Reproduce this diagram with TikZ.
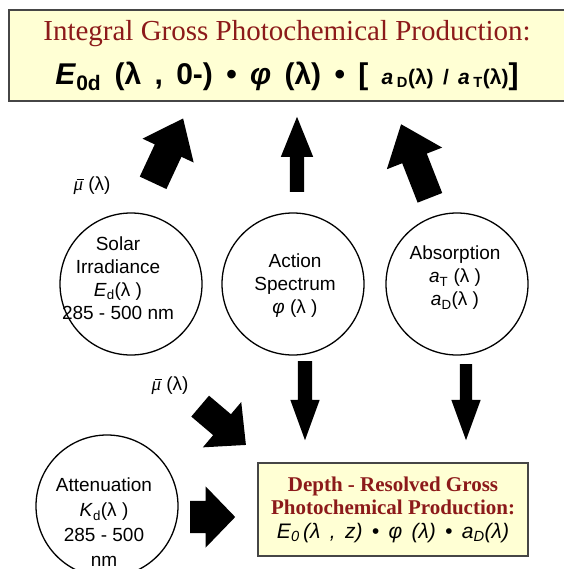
\documentclass[tikz,border=0pt]{standalone}
\usepackage{fontspec}
\setmainfont{Liberation Serif}
\setsansfont{Liberation Sans}
\usetikzlibrary{shapes.arrows, positioning}
\definecolor{boxfill}{RGB}{255,255,212}
\definecolor{titlered}{RGB}{140,26,26}
\definecolor{boxline}{RGB}{70,70,70}
\newcommand{\mubarsym}{{\rmfamily\itshape\makebox[0pt][l]{\hspace{0.17em}\raisebox{0.58em}{\rule{0.4em}{0.06em}}}μ}}

\begin{document}
\begin{tikzpicture}[
  x=1pt, y=-1pt,
  result/.style={draw=boxline, line width=2.5pt, fill=boxfill, align=center, inner sep=0pt},
  factor/.style={draw, circle, line width=1.3pt, minimum size=142pt, inner sep=0pt},
  factortext/.style={align=center, font=\sffamily\fontsize{19}{23}\selectfont},
  fat/.style={single arrow, fill=black, inner xsep=0pt, anchor=tail, single arrow head indent=0pt},
  mubar/.style={font=\sffamily\fontsize{19}{22}\selectfont}
]
\useasboundingbox (0,0) rectangle (563,569);

% integral result
\node[result, minimum width=556pt, minimum height=91pt, font=\fontsize{29}{44}\selectfont] (integral) at (287,55.5)
  {{\color{titlered}Integral Gross Photochemical Production:}\\
   {\sffamily\bfseries\fontsize{30}{44}\selectfont \textit{E}\textsubscript{0d}\, (λ\, ,\, 0-)\, •\, \textit{φ}\, (λ)\, •\, [\, {\fontsize{21}{21}\selectfont\textit{a}\,\textsubscript{D}(λ)\, /\, \textit{a}\,\textsubscript{T}(λ)}]}};

% factors
\node[factor] (solar) at (131,284) {};
\node[factortext] (solartext) at (118,278) {Solar\\Irradiance\\\textit{E}\textsubscript{d}(λ )\\285 - 500 nm};
\node[factor] (action) at (293,284) {};
\node[factortext] (actiontext) at (295,286) {Action\\Spectrum\\\textit{φ} (λ )};
\node[factor] (absorb) at (457,284) {};
\node[factortext] (absorbtext) at (455,278) {Absorption\\\textit{a}\textsubscript{T} (λ )\\\textit{a}\textsubscript{D}(λ )};
\node[factor] (atten) at (107,506) {};
\node[factortext, font=\sffamily\fontsize{19}{25}\selectfont] (attentext) at (104,522) {Attenuation\\\textit{K}\textsubscript{d}(λ )\\285 - 500\\nm};

% depth resolved result
\node[result, minimum width=270pt, minimum height=93pt, font=\fontsize{21}{23.5}\selectfont] (depth) at (393,509.5)
  {{\color{titlered}\bfseries Depth - Resolved Gross}\\
   {\color{titlered}\bfseries Photochemical Production:}\\
   {\sffamily\itshape\fontsize{21}{23.5}\selectfont E\textsubscript{0}\,(λ\, ,\, z)\, •\, φ\, (λ)\, •\, a\textsubscript{D}(λ)}};

% mean cosine labels
\node[mubar] (mu1) at (92,186) {\mubarsym\ (λ)};
\node[mubar] (mu2) at (170,386) {\mubarsym\ (λ)};

% block arrows
\node[fat, rotate=65, minimum height=71pt, minimum width=56pt, inner ysep=14.5pt, single arrow head extend=13.5pt, single arrow tip angle=77] (upsolar) at (153,183) {};
\node[fat, rotate=90, minimum height=75pt, minimum width=32pt, inner ysep=7pt, single arrow head extend=9pt, single arrow tip angle=44] (upaction) at (297,192) {};
\node[fat, rotate=111.4, minimum height=79pt, minimum width=59pt, inner ysep=13pt, single arrow head extend=16.5pt, single arrow tip angle=78] (upabsorb) at (430,198) {};
\node[fat, rotate=-90, minimum height=79pt, minimum width=29pt, inner ysep=7pt, single arrow head extend=7.5pt, single arrow tip angle=40] (downaction) at (305,361) {};
\node[fat, rotate=-90, minimum height=76pt, minimum width=29pt, inner ysep=6pt, single arrow head extend=8.5pt, single arrow tip angle=40] (downabsorb) at (466,364) {};
\node[fat, rotate=-40.3, minimum height=60pt, minimum width=59pt, inner ysep=13.5pt, single arrow head extend=16pt, single arrow tip angle=87] (diagmu) at (200,406) {};
\node[fat, minimum height=45pt, minimum width=61pt, inner ysep=16pt, single arrow head extend=14.5pt, single arrow tip angle=92] (rightatten) at (190,517) {};
\end{tikzpicture}
\end{document}
